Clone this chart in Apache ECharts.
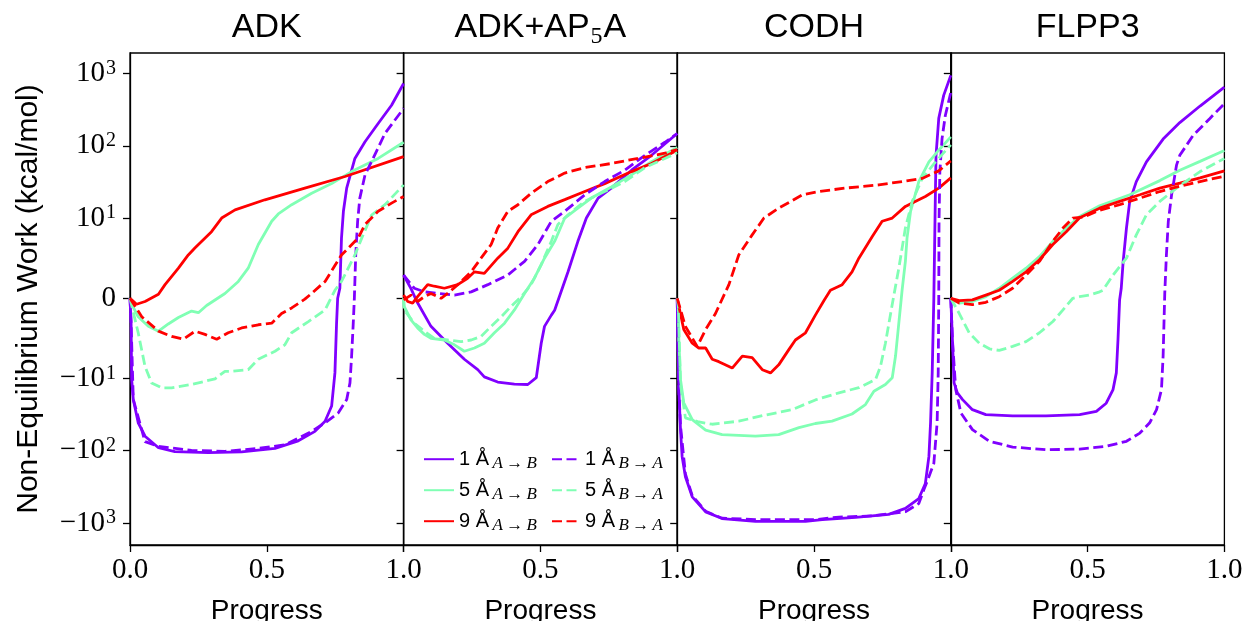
<!DOCTYPE html>
<html><head><meta charset="utf-8">
<script src="https://cdn.jsdelivr.net/npm/echarts@6/dist/echarts.min.js"></script>
<style>html,body{margin:0;padding:0;background:#fff}#c{width:1246px;height:621px}</style>
</head><body><div id="c"></div>
<script>
// ---- data: [progress, work (kcal/mol)] ----
const adk_1AB = [[0,0],[0.004,-3.1],[0.006,-10.3],[0.012,-19.5],[0.03,-41],[0.055,-63],[0.104,-91],[0.164,-103],[0.286,-106],[0.408,-104],[0.53,-93],[0.615,-73],[0.676,-54],[0.713,-39],[0.737,-24],[0.749,-9.3],[0.755,-3.1],[0.759,0],[0.767,1.25],[0.773,7.5],[0.78,12.4],[0.792,26],[0.822,67],[0.859,114],[0.907,204],[0.956,365],[1,730]];
const adk_5AB = [[0,0],[0.004,-0.6],[0.03,-2.3],[0.067,-3.5],[0.104,-4.1],[0.14,-3.2],[0.177,-2.4],[0.225,-1.6],[0.25,-1.8],[0.28,-0.9],[0.347,0.6],[0.396,2.1],[0.432,3.75],[0.469,6.7],[0.518,9.6],[0.542,11.4],[0.591,15.3],[0.664,22],[0.737,30],[0.81,44],[0.907,67],[1,112]];
const adk_9AB = [[0,0],[0.024,-0.75],[0.055,-0.4],[0.104,0.5],[0.128,1.7],[0.177,3.75],[0.213,5.4],[0.238,6.3],[0.298,8.3],[0.335,10],[0.384,13],[0.493,17.9],[0.639,25.9],[0.786,37.6],[1,70.9]];
const adk_1BA = [[0,0],[0.004,-3.1],[0.012,-19.5],[0.055,-75],[0.104,-87],[0.225,-99],[0.347,-102],[0.469,-93],[0.566,-83],[0.664,-54],[0.713,-41],[0.761,-30],[0.792,-19.6],[0.804,-11.5],[0.81,-7.2],[0.816,-3.1],[0.82,0],[0.825,5.4],[0.832,9.6],[0.84,18.9],[0.859,39.6],[0.883,60.5],[0.932,149],[1,330]];
const adk_5BA = [[0,0],[0.004,-0.6],[0.03,-4.3],[0.055,-8.5],[0.079,-11.5],[0.116,-13.5],[0.152,-13.5],[0.225,-12.1],[0.311,-10.1],[0.347,-9.1],[0.371,-9.1],[0.432,-8.9],[0.469,-7.6],[0.53,-6.6],[0.566,-5.8],[0.591,-4.3],[0.652,-2.9],[0.713,-1.45],[0.749,1.0],[0.773,2.1],[0.822,5.4],[0.847,7.5],[0.883,11],[0.932,15.3],[1,28.8]];
const adk_9BA = [[0,0],[0.043,-2.3],[0.104,-4.1],[0.152,-4.75],[0.195,-5.1],[0.238,-4.1],[0.274,-4.5],[0.317,-5.1],[0.359,-4.3],[0.408,-3.7],[0.469,-3.3],[0.518,-3.1],[0.554,-1.9],[0.591,-1.2],[0.639,-0.1],[0.664,0.6],[0.713,2.1],[0.773,5.4],[0.834,7.5],[0.859,9.2],[0.907,12.4],[0.956,16.1],[1,19.9]];

const ap_1AB = [[0,2.9],[0.027,1.2],[0.05,-0.5],[0.1,-3.5],[0.161,-5.6],[0.222,-7.6],[0.271,-8.9],[0.295,-9.8],[0.344,-11.2],[0.405,-12],[0.454,-12.1],[0.485,-9.9],[0.503,-5.6],[0.515,-3.5],[0.54,-2.1],[0.552,-1.5],[0.601,3.3],[0.637,7.1],[0.668,10.0],[0.711,18.9],[0.759,26],[0.833,46],[0.906,74],[1,148]];
const ap_5AB = [[0,0],[0.002,-1],[0.027,-2.7],[0.051,-3.7],[0.076,-4.5],[0.1,-5],[0.149,-5.2],[0.186,-5.8],[0.222,-6.6],[0.259,-6.2],[0.295,-5.6],[0.332,-4.3],[0.369,-3.1],[0.405,-1.45],[0.442,0.6],[0.478,2.5],[0.515,5.0],[0.552,7.1],[0.589,10],[0.637,13.7],[0.686,18.9],[0.759,27],[0.833,39.6],[0.906,60.5],[1,95]];
const ap_9AB = [[0,0.4],[0.015,-0.4],[0.033,-0.6],[0.051,0.2],[0.088,1.7],[0.112,1.5],[0.149,1.25],[0.198,1.7],[0.234,2.5],[0.259,3.3],[0.295,3.1],[0.344,5.0],[0.381,6.25],[0.418,8.3],[0.466,11.1],[0.527,14.5],[0.589,18],[0.662,23.3],[0.735,30],[0.833,44],[0.906,57],[1,87]];
const ap_1BA = [[0,2.9],[0.039,1.25],[0.076,0.8],[0.125,0.6],[0.186,0.4],[0.247,0.8],[0.308,1.7],[0.381,2.9],[0.442,4.6],[0.491,6.7],[0.54,9.6],[0.589,12.4],[0.662,21],[0.735,32],[0.808,46],[0.882,74],[0.955,112],[1,148]];
const ap_5BA = [[0,0],[0.002,-1.45],[0.039,-3.1],[0.076,-4.1],[0.112,-5],[0.161,-5.2],[0.21,-5.4],[0.247,-5.2],[0.283,-4.75],[0.32,-3.5],[0.357,-2.3],[0.393,-1.0],[0.43,0.2],[0.466,1.7],[0.503,4.2],[0.54,7.1],[0.564,9.2],[0.601,11.1],[0.662,17],[0.735,23.3],[0.808,32],[0.882,50],[0.955,67],[1,80]];
const ap_9BA = [[0,-0.2],[0.027,0.4],[0.051,-0.4],[0.076,0.2],[0.1,0.6],[0.137,0],[0.161,0.6],[0.198,1.7],[0.247,3.3],[0.283,5.0],[0.32,6.7],[0.344,8.75],[0.381,12.4],[0.418,15.3],[0.466,22],[0.527,32],[0.589,42],[0.662,50],[0.76,57],[0.857,67],[0.955,79],[1,89]];

const codh_1AB = [[0,0],[0.006,-14.2],[0.012,-51],[0.018,-120],[0.03,-230],[0.055,-435],[0.104,-703],[0.164,-870],[0.286,-950],[0.469,-950],[0.53,-900],[0.652,-840],[0.773,-760],[0.834,-630],[0.883,-460],[0.907,-285],[0.92,-120],[0.926,-41],[0.932,-9.3],[0.938,0],[0.944,26],[0.946,74],[0.956,240],[0.974,500],[1,946]];
const codh_5AB = [[0,0],[0.004,-1.0],[0.006,-5.2],[0.012,-10.3],[0.024,-21.7],[0.055,-37],[0.104,-52],[0.164,-60],[0.286,-63],[0.371,-60],[0.445,-48],[0.505,-42],[0.566,-39],[0.639,-31],[0.688,-23],[0.719,-15],[0.761,-12.1],[0.786,-9.9],[0.798,-7.2],[0.822,1.0],[0.834,4.6],[0.84,7.5],[0.853,12.4],[0.883,32],[0.92,60],[0.956,87],[1,133]];
const codh_9AB = [[0,0],[0.006,-0.2],[0.024,-3.9],[0.055,-5.6],[0.079,-6.2],[0.104,-6.2],[0.128,-7.6],[0.152,-7.9],[0.201,-8.7],[0.238,-7.2],[0.274,-7.4],[0.311,-8.9],[0.341,-9.3],[0.371,-8.3],[0.408,-6.4],[0.432,-5.2],[0.469,-4.3],[0.505,-2.1],[0.536,-0.3],[0.56,1.0],[0.603,1.7],[0.639,3.3],[0.664,5.0],[0.713,7.7],[0.749,9.6],[0.786,10],[0.834,14.5],[0.859,16.1],[0.907,19.9],[0.956,26],[1,36]];
const codh_1BA = [[0,0],[0.006,-14.2],[0.012,-45],[0.03,-210],[0.055,-420],[0.104,-690],[0.164,-860],[0.286,-900],[0.505,-900],[0.591,-830],[0.713,-800],[0.834,-700],[0.883,-540],[0.901,-350],[0.92,-230],[0.938,-150],[0.95,-41],[0.954,-9.3],[0.956,0],[0.957,9.6],[0.96,44],[0.968,126],[0.98,263],[1,550]];
const codh_5BA = [[0,0],[0.004,-1.0],[0.012,-12],[0.03,-35],[0.079,-40],[0.128,-43],[0.225,-39],[0.323,-32],[0.42,-27],[0.505,-19.8],[0.591,-15.8],[0.664,-13.4],[0.725,-10.3],[0.743,-8.5],[0.761,-5.6],[0.79,0],[0.81,3.75],[0.834,8.75],[0.859,17],[0.895,35],[0.944,60],[1,103]];
const codh_9BA = [[0,0],[0.006,-0.2],[0.03,-3.5],[0.073,-6],[0.104,-3.9],[0.14,-1.9],[0.152,-1.0],[0.189,1.7],[0.225,5.4],[0.274,7.9],[0.317,10],[0.371,13.7],[0.457,20.9],[0.518,23.3],[0.615,26],[0.737,28.8],[0.834,32.5],[0.895,35.4],[0.956,45],[1,62]];

const flpp_1AB = [[0,0],[0.006,-5.2],[0.012,-11.5],[0.024,-15.8],[0.043,-19.6],[0.079,-27],[0.128,-31.6],[0.226,-33],[0.348,-33],[0.471,-31.6],[0.532,-28.5],[0.568,-22],[0.593,-14.2],[0.605,-9.3],[0.611,-5.2],[0.617,-0.2],[0.623,1.25],[0.63,4.6],[0.642,8.75],[0.654,17],[0.678,32],[0.715,60],[0.776,124],[0.837,210],[0.911,356],[1,650]];
const flpp_5AB = [[0,0],[0.031,-0.6],[0.079,-0.4],[0.128,0.2],[0.177,1.25],[0.226,2.5],[0.275,3.75],[0.324,5.2],[0.373,7.1],[0.422,8.75],[0.471,10.5],[0.544,14.8],[0.654,21],[0.764,33],[0.837,46],[0.911,61],[1,86]];
const flpp_9AB = [[0,0],[0.031,-0.3],[0.079,-0.2],[0.128,0.4],[0.177,1.0],[0.226,2.1],[0.275,3.3],[0.324,4.8],[0.373,6.7],[0.422,8.3],[0.471,10.1],[0.544,13.7],[0.617,17],[0.691,21],[0.764,26],[0.837,30.4],[0.911,36],[1,45]];
const flpp_1BA = [[0,0],[0.006,-5.2],[0.018,-14.2],[0.037,-30],[0.079,-51],[0.141,-74],[0.226,-89],[0.348,-97],[0.471,-95],[0.568,-87],[0.642,-74],[0.691,-57],[0.727,-41],[0.752,-27],[0.77,-14.2],[0.776,-7.2],[0.782,0.6],[0.788,5.4],[0.795,9.6],[0.807,21],[0.825,54],[0.837,74],[0.886,140],[0.947,240],[1,384]];
const flpp_5BA = [[0,0],[0.004,-0.2],[0.031,-1.9],[0.067,-4.3],[0.104,-5.6],[0.141,-6.3],[0.177,-6.5],[0.226,-6],[0.275,-5.4],[0.324,-4.3],[0.373,-2.9],[0.41,-1.45],[0.446,0],[0.471,0.2],[0.507,0.4],[0.544,0.8],[0.556,1.0],[0.593,2.9],[0.642,5.0],[0.678,7.9],[0.715,11.1],[0.764,17],[0.825,26],[0.911,44],[1,67]];
const flpp_9BA = [[0,0],[0.031,-0.6],[0.079,-0.8],[0.128,-0.5],[0.177,0.2],[0.226,1.25],[0.275,2.9],[0.324,4.6],[0.373,7.1],[0.41,8.75],[0.446,10],[0.483,10.3],[0.544,12.8],[0.617,15.3],[0.691,18.9],[0.764,23.3],[0.837,27.6],[0.911,32],[1,38]];

const panelTitles = ['ADK', 'ADK+AP{s|5}A', 'CODH', 'FLPP3'];
const seriesNames = ['1 Å A→B', '5 Å A→B', '9 Å A→B', '1 Å B→A', '5 Å B→A', '9 Å B→A'];
const panelSeries = [
  [adk_1AB, adk_5AB, adk_9AB, adk_1BA, adk_5BA, adk_9BA],
  [ap_1AB, ap_5AB, ap_9AB, ap_1BA, ap_5BA, ap_9BA],
  [codh_1AB, codh_5AB, codh_9AB, codh_1BA, codh_5BA, codh_9BA],
  [flpp_1AB, flpp_5AB, flpp_9AB, flpp_1BA, flpp_5BA, flpp_9BA]
];
const yTickValues = [-1000, -100, -10, 0, 10, 100, 1000];
const xTickLabels = ['0.0', '0.5', '1.0'];

// ---- symlog transform (linthresh 10, linscale 1) ----
const LIN = 10, LINSCALE = 1 / (1 - 1 / 10);
function symlog(v) {
  const a = Math.abs(v);
  const t = a <= LIN ? a / LIN * LINSCALE : LINSCALE + Math.log10(a / LIN);
  return v < 0 ? -t : t;
}
function yTickLabel(v) {
  if (v === 0) return '0';
  const e = Math.round(Math.log10(Math.abs(v)));
  return (v < 0 ? '\u2212' : '') + '10{p|' + e + '}';
}

const colors = ['#8000ff', '#80ffb4', '#ff0000', '#8000ff', '#80ffb4', '#ff0000'];
const dashed = [false, false, false, true, true, true];

const GL = 130, GW = 273.6, GT = 53, GH = 492;
const Y_MIN = -3.417, Y_MAX = 3.397;
const black = '#000';
const serif = 'Liberation Serif', sans = 'Liberation Sans';

const grids = [], xAxes = [], yAxes = [], series = [], graphics = [];
const yCustom = yTickValues.map(symlog);

for (let i = 0; i < 4; i++) {
  grids.push({ left: GL + i * GW, top: GT, width: GW, height: GH, show: true,
    borderColor: black, borderWidth: 1.3, backgroundColor: 'transparent',
    containLabel: false, outerBoundsMode: 'none' });
  xAxes.push({
    type: 'value', gridIndex: i, min: 0, max: 1, interval: 0.5,
    axisLine: { onZero: false, lineStyle: { color: black, width: 1.3 } },
    axisTick: { length: 7, lineStyle: { color: black, width: 1.3 } },
    splitLine: { show: false },
    axisLabel: {
      color: black, fontFamily: serif, fontSize: 29, margin: 11,
      formatter: (v) => (i > 0 && v === 0) ? '' : xTickLabels[Math.round(v * 2)]
    },
    name: 'Progress', nameLocation: 'middle', nameGap: 52,
    nameTextStyle: { color: black, fontFamily: sans, fontSize: 28 }
  });
  yAxes.push({
    type: 'value', gridIndex: i, min: Y_MIN, max: Y_MAX,
    axisLine: { onZero: false, lineStyle: { color: black, width: 1.3 } },
    axisTick: { customValues: yCustom, length: 7, lineStyle: { color: black, width: 1.3 } },
    splitLine: { show: false },
    axisLabel: {
      show: i === 0, customValues: yCustom, color: black, fontFamily: serif, fontSize: 29,
      lineHeight: 30, margin: 14,
      formatter: (val) => {
        for (let k = 0; k < yTickValues.length; k++) {
          if (Math.abs(symlog(yTickValues[k]) - val) < 1e-6) return yTickLabel(yTickValues[k]);
        }
        return '';
      },
      rich: { p: { fontFamily: serif, fontSize: 20, lineHeight: 20, padding: [0, 0, 10, 1], color: black } }
    },
    name: i === 0 ? 'Non-Equilibrium Work (kcal/mol)' : '',
    nameLocation: 'middle', nameGap: 86,
    nameTextStyle: { color: black, fontFamily: sans, fontSize: 30 }
  });
  panelSeries[i].forEach((arr, k) => {
    series.push({
      type: 'line', name: seriesNames[k], xAxisIndex: i, yAxisIndex: i,
      data: arr.map(([p, w]) => [p, symlog(w)]),
      symbol: 'none', showSymbol: false, silent: true, animation: false, z: 2 + k,
      lineStyle: { color: colors[k], width: 2.8, type: dashed[k] ? [10, 4.5] : 'solid', cap: 'butt' },
      itemStyle: { color: colors[k] }
    });
  });
  graphics.push({
    type: 'text', x: GL + i * GW + GW / 2, y: 28, silent: true,
    style: {
      text: panelTitles[i], align: 'center', verticalAlign: 'middle',
      fontFamily: sans, fontSize: 34, lineHeight: 40, fill: black,
      rich: { s: { fontFamily: serif, fontSize: 24, lineHeight: 22, padding: [18, 1, 0, 1], fill: black } }
    }
  });
}

function legendFmt(name) {
  const parts = name.split(' ');
  return '{n|' + parts[0] + ' ' + parts[1] + '}{s|\u2009' + parts[2].replace('→', '\u2009→\u2009') + '}';
}
const legendText = {
  color: black,
  rich: {
    n: { fontFamily: sans, fontSize: 20, lineHeight: 20, color: black },
    s: { fontFamily: serif, fontStyle: 'italic', fontSize: 17, lineHeight: 12, padding: [8, 0, 0, 0], color: black }
  }
};
const legendCommon = {
  orient: 'vertical', top: 446.7, padding: 0, itemHeight: 12, itemGap: 6,
  selectedMode: false, formatter: legendFmt, textStyle: legendText,
  itemStyle: { opacity: 0, borderWidth: 0 }
};

const option = {
  animation: false,
  backgroundColor: '#fff',
  grid: grids, xAxis: xAxes, yAxis: yAxes, series: series, graphic: graphics,
  legend: [
    Object.assign({ data: seriesNames.slice(0, 3), left: 423, itemWidth: 30 }, legendCommon),
    Object.assign({ data: seriesNames.slice(3), left: 551, itemWidth: 28 }, legendCommon)
  ]
};
const chart = echarts.init(document.getElementById('c'), null, { renderer: 'canvas' });
chart.setOption(option);
</script>
</body></html>
